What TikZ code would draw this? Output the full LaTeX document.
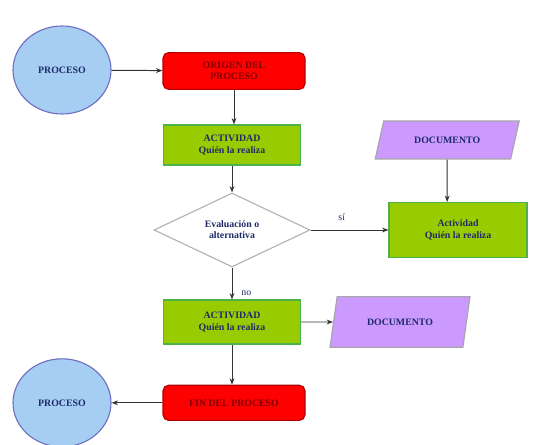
\documentclass[tikz,border=0pt]{standalone}
\usepackage{fontspec}
\setmainfont{Liberation Serif}
\usepackage{tikz}
\usetikzlibrary{arrows.meta,shapes.geometric,positioning,calc}

\definecolor{procblue}{HTML}{A6CEF2}
\definecolor{actgreen}{HTML}{99CC00}
\definecolor{docviolet}{HTML}{CC99FF}
\definecolor{inkblue}{HTML}{1F2A6B}

\begin{document}
\begin{tikzpicture}[
    procnode/.style={
        ellipse,
        draw=gray!60!blue!80,
        fill=procblue,
        line width=0.8pt,
        minimum width=2.45cm,
        minimum height=2.2cm,
        font=\fontsize{7}{8}\selectfont\bfseries,
        text=inkblue
    },
    endbox/.style={
        draw=red!70!black,
        fill=red,
        rounded corners=4pt,
        line width=0.8pt,
        minimum width=3.55cm,
        minimum height=0.92cm,
        font=\fontsize{7}{8}\selectfont\bfseries,
        text=red!50!black,
        align=center
    },
    actbox/.style={
        draw=gray!60!green,
        fill=actgreen,
        line width=0.8pt,
        minimum width=3.43cm,
        minimum height=1.0cm,
        font=\fontsize{7}{8}\selectfont\bfseries,
        text=inkblue,
        align=center
    },
    docbox/.style={
        trapezium,
        trapezium left angle=62,
        trapezium right angle=118,
        trapezium stretches body=true,
        draw=gray!70,
        fill=docviolet,
        line width=0.8pt,
        minimum width=3.6cm,
        minimum height=0.95cm,
        font=\fontsize{7}{8}\selectfont\bfseries,
        text=inkblue
    },
    decbox/.style={
        diamond,
        aspect=2.1,
        inner sep=0pt,
        draw=gray!60,
        fill=white,
        line width=0.8pt,
        minimum width=3.9cm,
        minimum height=1.85cm,
        font=\fontsize{7}{8}\selectfont\bfseries,
        text=inkblue,
        align=center
    },
    arrow/.style={
        -{Stealth[length=1.6mm]},
        line width=0.7pt,
        draw=gray!40!black
    }
]
    \useasboundingbox (0,0) rectangle (13.55,-11.125);

    \node[procnode] (proc1) at (1.55, -1.75) {PROCESO};
    \node[endbox] (origen) at (5.85, -1.775) {ORIGEN DEL\\PROCESO};
    \node[actbox] (act1) at (5.8, -3.625) {ACTIVIDAD\\Quién la realiza};
    \node[decbox] (eval) at (5.8, -5.75) {Evaluación o\\alternativa};
    \node[docbox] (doc1) at (11.18, -3.5) {DOCUMENTO};
    \node[actbox, minimum width=3.45cm, minimum height=1.375cm] (act2) at (11.45, -5.75) {Actividad\\Quién la realiza};
    \node[actbox, minimum height=1.1cm] (act3) at (5.8, -8.05) {ACTIVIDAD\\Quién la realiza};
    \node[docbox, minimum width=3.5cm, minimum height=1.27cm, trapezium left angle=66, trapezium right angle=114] (doc2) at (10.0, -8.05) {DOCUMENTO};
    \node[endbox, minimum height=0.88cm] (fin) at (5.85, -10.07) {FIN DEL PROCESO};
    \node[procnode] (proc2) at (1.55, -10.07) {PROCESO};

    \draw[arrow] (proc1) -- (origen);
    \draw[arrow] (origen) -- (origen |- act1.north);
    \draw[arrow] (act1) -- (eval);
    \draw[arrow] (eval) -- node[pos=0.4, above=3pt, font=\fontsize{7}{8}\selectfont, text=inkblue] {sí} (act2);
    \draw[arrow] (doc1) -- (doc1 |- act2.north);
    \draw[arrow] (eval) -- node[pos=0.8, right=3pt, font=\fontsize{7}{8}\selectfont, text=inkblue] {no} (act3);
    \draw[arrow] (act3) -- (doc2);
    \draw[arrow] (act3) -- (act3 |- fin.north);
    \draw[arrow] (fin) -- (proc2);
\end{tikzpicture}
\end{document}
